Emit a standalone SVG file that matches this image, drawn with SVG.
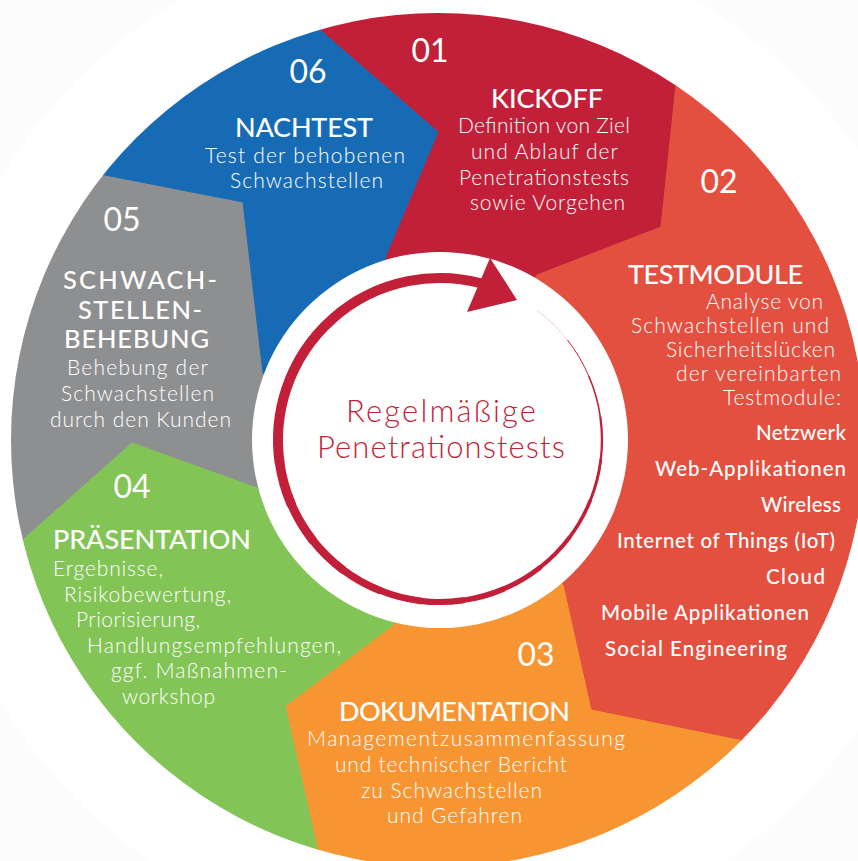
<svg xmlns="http://www.w3.org/2000/svg" width="858" height="861" viewBox="0 0 858 861">
<style>
text{font-family:Lato,"Liberation Sans",sans-serif;fill:#fff}
.num{font-size:32px;font-weight:400;text-anchor:middle}
.h{font-size:27px;font-weight:500}
.hs{font-size:25.5px;font-weight:500;text-anchor:middle}
.b{font-size:21px;font-weight:300}
.li{font-size:20.5px;font-weight:500;text-anchor:end}
.m{text-anchor:middle}
.e{text-anchor:end}
.ctr{font-size:31px;font-weight:300;fill:#c21f39;text-anchor:middle}
.seg{stroke-width:1;stroke-linejoin:round}
.ring{fill:none;stroke:#c21f39;stroke-linecap:round}
</style>
<defs>
<clipPath id="outer"><circle cx="438" cy="440" r="427"/></clipPath>
</defs>
<rect width="858" height="861" fill="#fcfcfc"/>
<circle cx="438" cy="440" r="510" fill="#fff"/>
<g id="segments" clip-path="url(#outer)">
<g id="node-01"><path class="seg" fill="#c21f39" stroke="#c21f39" d="M440,440 L385,258 L438,132 L261,-21 L261,-120 L684,-120 L683.5,14 L661,227 L537,275 Z"/></g>
<g id="node-02"><path class="seg" fill="#e4503f" stroke="#e4503f" d="M440,440 L537,275 L661,227 L683.5,14 L1000,14 L1000,800 L819,756.5 L591,710 L563,585 Z"/></g>
<g id="node-03"><path class="seg" fill="#f69532" stroke="#f69532" d="M440,440 L563,585 L591,710 L819,756.5 L900,1000 L334.5,1000 L334.5,925 L285,706 L393,625 Z"/></g>
<g id="node-04"><path class="seg" fill="#82c455" stroke="#82c455" d="M440,440 L393,625 L285,706 L334.5,925 L-100,1000 L-28.5,584.5 L132,442 L257,487 Z"/></g>
<g id="node-05"><path class="seg" fill="#8e8f90" stroke="#8e8f90" d="M440,440 L257,487 L132,442 L-28.5,584.5 L-100,100 L36,161.5 L243,202 L263,373 Z"/></g>
<g id="node-06"><path class="seg" fill="#176bb5" stroke="#176bb5" d="M440,440 L263,373 L243,202 L36,161.5 L100,-100 L261,-21 L438,132 L385,258 Z"/></g>
</g>
<g id="center">
<circle cx="440" cy="440" r="188" fill="#fff"/>
<text class="ctr" x="441" y="422" textLength="190">Regelmäßige</text>
<text class="ctr" x="441" y="458" textLength="248">Penetrationstests</text>
</g>
<g id="connectors">
<path class="ring" stroke-width="0.4" opacity="0.5" d="M537.5,310.6 A162,162 0 0 1 567.7,340.3"/>
<path class="ring" stroke-width="1" d="M567.7,340.3 A162,162 0 0 1 589.1,376.7"/>
<path class="ring" stroke-width="1.6" d="M589.1,376.7 A162,162 0 0 1 600.4,417.4"/>
<path class="ring" stroke-width="2.3" d="M600.4,417.4 A162,162 0 0 1 600.8,459.7"/>
<path class="ring" stroke-width="2.9" d="M600.8,459.7 A162,162 0 0 1 590.2,500.7"/>
<path class="ring" stroke-width="3.6" d="M590.2,500.7 A162,162 0 0 1 569.4,537.5"/>
<path class="ring" stroke-width="4.2" d="M569.4,537.5 A162,162 0 0 1 539.7,567.7"/>
<path class="ring" stroke-width="4.9" d="M539.7,567.7 A162,162 0 0 1 503.3,589.1"/>
<path class="ring" stroke-width="5.5" d="M503.3,589.1 A162,162 0 0 1 462.6,600.4"/>
<path class="ring" stroke-width="6.2" d="M462.6,600.4 A162,162 0 0 1 420.3,600.8"/>
<path class="ring" stroke-width="6.8" d="M420.3,600.8 A162,162 0 0 1 379.3,590.2"/>
<path class="ring" stroke-width="7.5" d="M379.3,590.2 A162,162 0 0 1 342.5,569.4"/>
<path class="ring" stroke-width="8.2" d="M342.5,569.4 A162,162 0 0 1 312.3,539.7"/>
<path class="ring" stroke-width="8.8" d="M312.3,539.7 A162,162 0 0 1 290.9,503.3"/>
<path class="ring" stroke-width="9.5" d="M290.9,503.3 A162,162 0 0 1 279.6,462.6"/>
<path class="ring" stroke-width="10" d="M279.6,462.6 A162,162 0 0 1 481.9,283.5"/>
<polygon fill="#c21f39" points="490,258 517,300 467,312"/>
</g>
<g id="label-06">
<text class="num" x="308" y="83">06</text>
<text class="h m" x="304" y="137" textLength="138">NACHTEST</text>
<text class="b m" x="305" y="163" textLength="200">Test der behobenen</text>
<text class="b m" x="306.5" y="188" textLength="153">Schwachstellen</text>
</g>
<g id="label-01">
<text class="num" x="430" y="62">01</text>
<text class="h m" x="547" y="108" textLength="112">KICKOFF</text>
<text class="b m" x="544" y="133" textLength="172">Definition von Ziel</text>
<text class="b m" x="544.5" y="159" textLength="147">und Ablauf der</text>
<text class="b m" x="544" y="185" textLength="170">Penetrationstests</text>
<text class="b m" x="547.5" y="210" textLength="155">sowie Vorgehen</text>
</g>
<g id="label-02">
<text class="num" x="719" y="193">02</text>
<text class="h m" x="715.5" y="284" textLength="175">TESTMODULE</text>
<text class="b e" x="823" y="309" textLength="117">Analyse von</text>
<text class="b e" x="829" y="333" textLength="198">Schwachstellen und</text>
<text class="b e" x="835" y="357" textLength="169">Sicherheitslücken</text>
<text class="b e" x="841" y="381" textLength="165">der vereinbarten</text>
<text class="b e" x="841" y="405" textLength="118">Testmodule:</text>
<text class="li" x="846" y="440" textLength="90">Netzwerk</text>
<text class="li" x="846" y="476" textLength="191">Web-Applikationen</text>
<text class="li" x="841" y="512" textLength="80">Wireless</text>
<text class="li" x="835" y="548" textLength="218">Internet of Things (IoT)</text>
<text class="li" x="825" y="584" textLength="59">Cloud</text>
<text class="li" x="809" y="620" textLength="208">Mobile Applikationen</text>
<text class="li" x="787" y="656" textLength="182">Social Engineering</text>
</g>
<g id="label-03">
<text class="num" x="536" y="666">03</text>
<text class="h m" x="454.5" y="721" textLength="231">DOKUMENTATION</text>
<text class="b m" x="466" y="746" textLength="318">Managementzusammenfassung</text>
<text class="b m" x="451" y="772" textLength="232">und technischer Bericht</text>
<text class="b m" x="451.5" y="798" textLength="181">zu Schwachstellen</text>
<text class="b m" x="454.5" y="823" textLength="135">und Gefahren</text>
</g>
<g id="label-04">
<text class="num" x="132" y="498">04</text>
<text class="h" x="53" y="549" textLength="198">PRÄSENTATION</text>
<text class="b" x="53" y="576" textLength="110">Ergebnisse,</text>
<text class="b" x="64" y="602" textLength="167">Risikobewertung,</text>
<text class="b" x="76" y="627" textLength="124">Priorisierung,</text>
<text class="b" x="87" y="653" textLength="254">Handlungsempfehlungen,</text>
<text class="b" x="111" y="678" textLength="176">ggf. Maßnahmen-</text>
<text class="b" x="122" y="704" textLength="93">workshop</text>
</g>
<g id="label-05">
<text class="num" x="122" y="231">05</text>
<text class="hs" x="140" y="289" textLength="154">SCHWACH-</text>
<text class="hs" x="140" y="319" textLength="124">STELLEN-</text>
<text class="hs" x="136.5" y="348" textLength="145">BEHEBUNG</text>
<text class="b m" x="137.5" y="375" textLength="141">Behebung der</text>
<text class="b m" x="137.5" y="401" textLength="153">Schwachstellen</text>
<text class="b m" x="140.5" y="427" textLength="181">durch den Kunden</text>
</g>
</svg>
